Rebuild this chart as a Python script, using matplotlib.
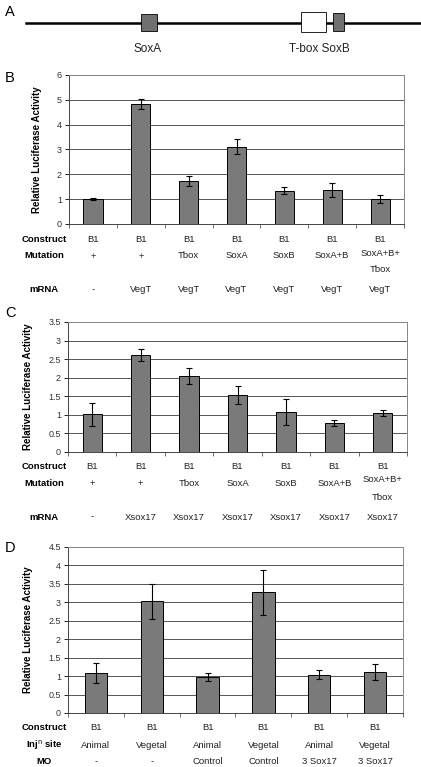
import matplotlib
matplotlib.use("Agg")
import matplotlib.pyplot as plt
import matplotlib.transforms as mtransforms
from matplotlib.patches import Rectangle

plt.rcParams['font.family'] = ['Liberation Sans', 'DejaVu Sans']

W, H = 421, 767

# panel B data (VegT)
b_vals = [1.0, 4.83, 1.72, 3.12, 1.34, 1.37, 1.01]
b_err = [0.05, 0.21, 0.2, 0.3, 0.14, 0.28, 0.15]
b_rows = ['Construct', 'Mutation', 'mRNA']
b_construct = ['B1'] * 7
b_mutation = ['+', '+', 'Tbox', 'SoxA', 'SoxB', 'SoxA+B', 'SoxA+B+\nTbox']
b_mrna = ['-', 'VegT', 'VegT', 'VegT', 'VegT', 'VegT', 'VegT']

# panel C data (Xsox17)
c_vals = [1.01, 2.62, 2.05, 1.53, 1.07, 0.77, 1.04]
c_err = [0.3, 0.16, 0.21, 0.25, 0.35, 0.08, 0.08]
c_construct = ['B1'] * 7
c_mutation = ['+', '+', 'Tbox', 'SoxA', 'SoxB', 'SoxA+B', 'SoxA+B+\nTbox']
c_mrna = ['-', 'Xsox17', 'Xsox17', 'Xsox17', 'Xsox17', 'Xsox17', 'Xsox17']

# panel D data (MO)
d_vals = [1.08, 3.03, 0.98, 3.28, 1.04, 1.11]
d_err = [0.27, 0.47, 0.1, 0.61, 0.13, 0.22]
d_rows = ['Construct', 'Inj$^{\\mathrm{n}}$ site', 'MO']
d_construct = ['B1'] * 6
d_site = ['Animal', 'Vegetal', 'Animal', 'Vegetal', 'Animal', 'Vegetal']
d_mo = ['-', '-', 'Control', 'Control', '3 Sox17', '3 Sox17']

# schematic (panel A), pixel units
a_line = (26, 421, 23)
a_boxes = [(141, 14, 16, 17, '#707070'), (301, 12, 25, 20, 'white'), (333, 13, 11, 18, '#707070')]
a_labels = [(148, 'SoxA'), (319, 'T-box SoxB')]

fig = plt.figure(figsize=(W / 100, H / 100), dpi=100)


def px_ax(l, t, r, b):
    return fig.add_axes([l / W, 1 - b / H, (r - l) / W, (b - t) / H])


# panel A
axa = fig.add_axes([0, 0, 1, 1])
axa.set_xlim(0, W)
axa.set_ylim(H, 0)
axa.axis('off')
axa.plot([a_line[0], a_line[1]], [a_line[2], a_line[2]], color='black', lw=1.8, zorder=1)
for x, y, w, h, col in a_boxes:
    axa.add_patch(Rectangle((x, y), w, h, facecolor=col, edgecolor='black', lw=0.6, zorder=2))
for x, s in a_labels:
    axa.text(x, 49, s, ha='center', va='center', fontsize=8.5, color='#222222')

for letter, y in [('A', 12), ('B', 78), ('C', 313), ('D', 548)]:
    fig.text(5 / W, 1 - y / H, letter, fontsize=10.5, va='center', ha='left')


def bar_panel(box, vals, err, ymax, step, rows, table, row_y):
    ax = px_ax(*box)
    n = len(vals)
    xs = list(range(n))
    ax.bar(xs, vals, width=0.4, color='#7a7a7a', edgecolor='black', lw=0.7, zorder=3)
    ax.errorbar(xs, vals, yerr=err, fmt='none', ecolor='black', elinewidth=0.8,
                capsize=2.5, capthick=0.8, zorder=4)
    ax.set_xlim(-0.5, n - 0.5)
    ax.set_ylim(0, ymax)
    ticks = [i * step for i in range(int(round(ymax / step)) + 1)]
    ax.set_yticks(ticks)
    ax.set_yticklabels(['%g' % t for t in ticks], fontsize=6.5, color='#333333')
    ax.set_xticks([i - 0.5 for i in range(n + 1)])
    ax.set_xticklabels([])
    ax.tick_params(axis='x', length=3, width=0.6, direction='out', colors='#555555')
    ax.tick_params(axis='y', length=3, width=0.6, direction='out', pad=2)
    ax.yaxis.grid(True, color='#3a3a3a', lw=0.6, zorder=0)
    ax.set_axisbelow(True)
    for s in ['top', 'right']:
        ax.spines[s].set_color('#888888')
        ax.spines[s].set_linewidth(0.7)
    for s in ['left', 'bottom']:
        ax.spines[s].set_color('#444444')
        ax.spines[s].set_linewidth(0.7)
    ax.set_ylabel('Relative Luciferase Activity', fontsize=7, fontweight='bold', labelpad=11)
    tr = mtransforms.blended_transform_factory(ax.transData, fig.transFigure)
    for name, vals_row, y in zip(rows, table, row_y):
        fig.text(44 / W, 1 - y / H, name, ha='center', va='center', fontsize=6.8,
                 fontweight='bold')
        for i, s in enumerate(vals_row):
            lines = s.split('\n')
            y0 = y - 3 if len(lines) > 1 else y
            for k, line in enumerate(lines):
                fig.text(i, 1 - (y0 + 17 * k) / H, line, ha='center', va='center',
                         fontsize=6.8, color='#222222', transform=tr)
    return ax


bar_panel((69, 75, 404, 224), b_vals, b_err, 6, 1, b_rows,
          [b_construct, b_mutation, b_mrna], [239, 256, 290])
bar_panel((68, 322, 407, 452), c_vals, c_err, 3.5, 0.5, b_rows,
          [c_construct, c_mutation, c_mrna], [467, 483, 517])
bar_panel((68, 547, 403, 713), d_vals, d_err, 4.5, 0.5, d_rows,
          [d_construct, d_site, d_mo], [728, 745, 762])

fig.savefig('out.png', dpi=100)
